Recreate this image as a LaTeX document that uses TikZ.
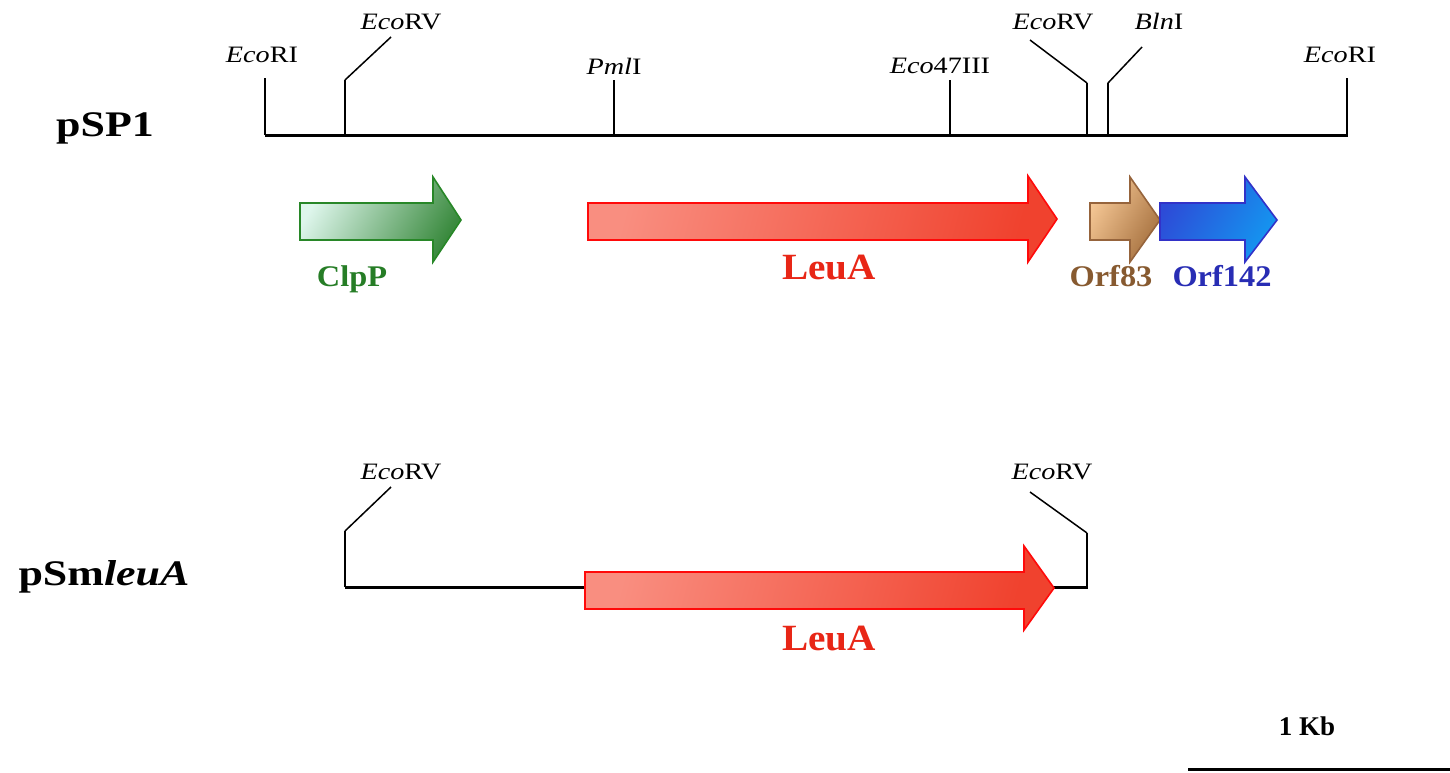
\documentclass[tikz,border=0pt]{standalone}
\usepackage{fontspec}
\setmainfont{Liberation Serif}
\begin{document}
\begin{tikzpicture}[x=1pt,y=-1pt,
  dna/.style={line width=3pt},
  tick/.style={line width=2.4pt},
  slant/.style={line width=1.5pt},
  enz/.style={anchor=base,inner sep=0pt,xscale=1.2,font=\fontsize{23.5}{28}\selectfont},
  plas/.style={anchor=base,inner sep=0pt,xscale=1.22,font=\fontsize{36}{42}\selectfont\bfseries},
  glab/.style={anchor=base,inner sep=0pt,xscale=1.08,font=\fontsize{30}{36}\selectfont\bfseries},
  biglab/.style={anchor=base,inner sep=0pt,xscale=1.06,font=\fontsize{37}{44}\selectfont\bfseries},
  gene/.style={line width=1.6pt,line join=miter}]
\definecolor{gA}{RGB}{222,246,236}\definecolor{gB}{RGB}{58,138,62}\definecolor{gD}{RGB}{40,135,40}\definecolor{gT}{RGB}{38,125,38}
\definecolor{rA}{RGB}{249,142,128}\definecolor{rB}{RGB}{240,66,46}\definecolor{rD}{RGB}{255,10,10}\definecolor{rT}{RGB}{232,38,22}
\definecolor{oA}{RGB}{246,200,150}\definecolor{oB}{RGB}{165,112,62}\definecolor{oD}{RGB}{150,100,60}\definecolor{oT}{RGB}{135,90,48}
\definecolor{bA}{RGB}{45,75,215}\definecolor{bB}{RGB}{20,150,240}\definecolor{bD}{RGB}{50,50,200}\definecolor{bT}{RGB}{40,45,180}
\useasboundingbox (0,0) rectangle (1450,772);

% ---------- pSP1 ----------
\node[plas] (p1) at (105,136) {pSP1};
\coordinate (L1) at (265,135);
\coordinate (R1) at (1348,135);
\draw[dna] (L1) -- (R1);
% sites
\draw[tick] (265,135) -- (265,78);
\node[enz] (s1) at (262,62) {\textit{Eco}RI};
\draw[tick] (345,135) -- (345,80);
\draw[slant] (345,80) -- (391,37);
\node[enz] (s2) at (401,29) {\textit{Eco}RV};
\draw[tick] (614,135) -- (614,80);
\node[enz] (s3) at (614,74) {\textit{Pml}I};
\draw[tick] (950,135) -- (950,80);
\node[enz] (s4) at (940,73) {\textit{Eco}47III};
\draw[tick] (1087,135) -- (1087,83);
\draw[slant] (1087,83) -- (1030,40);
\node[enz] (s5) at (1053,29) {\textit{Eco}RV};
\draw[tick] (1108,135) -- (1108,83);
\draw[slant] (1108,83) -- (1142,47);
\node[enz] (s6) at (1159,29) {\textit{Bln}I};
\draw[tick] (1347,135) -- (1347,78);
\node[enz] (s7) at (1340,62) {\textit{Eco}RI};

% genes
\shadedraw[gene,draw=gD,left color=gA,right color=gB,shading angle=60]
  (300,203) -- (433,203) -- (433,177) -- (461,220) -- (433,262) -- (433,240) -- (300,240) -- cycle;
\node[glab,text=gT] (clpp) at (352,286) {ClpP};
\shadedraw[gene,draw=rD,left color=rA,right color=rB,shading angle=75]
  (588,203) -- (1028,203) -- (1028,176) -- (1057,219) -- (1028,262) -- (1028,240) -- (588,240) -- cycle;
\node[biglab,text=rT] (leua1) at (829,279) {LeuA};
\shadedraw[gene,draw=oD,left color=oA,right color=oB,shading angle=60]
  (1090,203) -- (1130,203) -- (1130,177) -- (1160,220) -- (1130,262) -- (1130,240) -- (1090,240) -- cycle;
\node[glab,text=oT] (orf83) at (1111,286) {Orf83};
\shadedraw[gene,draw=bD,left color=bA,right color=bB,shading angle=60]
  (1160,203) -- (1245,203) -- (1245,177) -- (1277,220) -- (1245,262) -- (1245,240) -- (1160,240) -- cycle;
\node[glab,text=bT] (orf142) at (1222,286) {Orf142};

% ---------- pSmleuA ----------
\node[plas] (p2) at (104,585) {pSm\textit{leuA}};
\coordinate (L2) at (345,587);
\coordinate (R2) at (1088,587);
\draw[tick] (345,587) -- (345,531);
\draw[slant] (345,531) -- (391,487);
\node[enz] (t1) at (401,479) {\textit{Eco}RV};
\draw[tick] (1087,587) -- (1087,533);
\draw[slant] (1087,533) -- (1030,492);
\node[enz] (t2) at (1052,479) {\textit{Eco}RV};
\draw[dna] (L2) -- (R2);
\shadedraw[gene,draw=rD,left color=rA,right color=rB,shading angle=75]
  (585,572) -- (1024,572) -- (1024,546) -- (1054,588) -- (1024,630) -- (1024,609) -- (585,609) -- cycle;
\node[biglab,text=rT] (leua2) at (829,650) {LeuA};

% ---------- scale bar ----------
\coordinate (sb1) at (1188,769);
\coordinate (sb2) at (1450,769);
\draw[dna] (sb1) -- (sb2);
\node[anchor=base,inner sep=0pt,font=\fontsize{27}{32}\selectfont\bfseries] (kb) at (1307,735) {1 Kb};
\end{tikzpicture}
\end{document}
